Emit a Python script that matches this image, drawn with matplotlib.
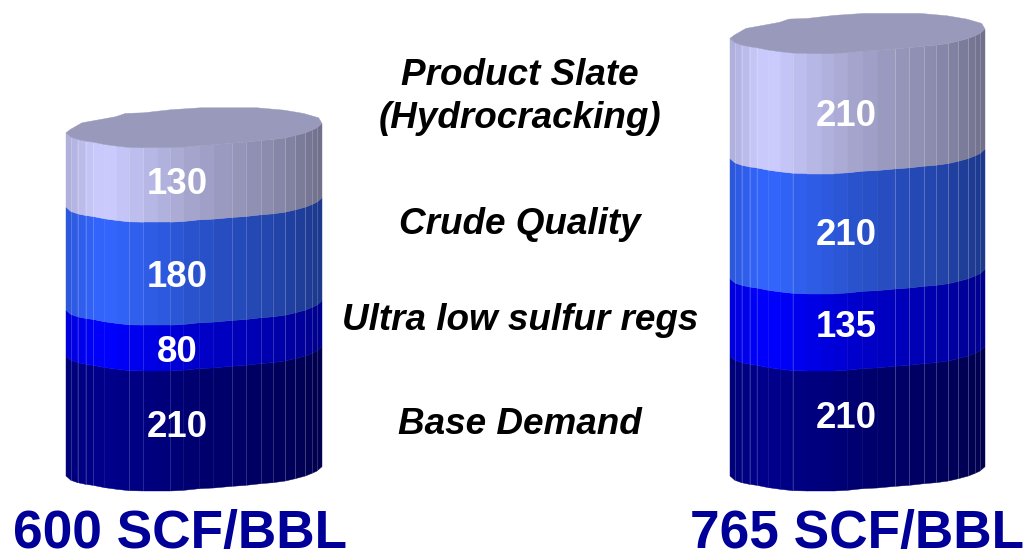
import numpy as np
import matplotlib
matplotlib.use('Agg')
import matplotlib.pyplot as plt

# hydrogen demand stacks, bottom to top
low_case = [210, 80, 180, 130]
high_case = [210, 135, 210, 210]
low_title = '600 SCF/BBL'
high_title = '765 SCF/BBL'
driver_names = ['Base Demand', 'Ultra low sulfur regs', 'Crude Quality', 'Product Slate\n(Hydrocracking)']

band_colors = [(0.0, 0.0, 0.55), (0.0, 0.0, 1.0), (0.2, 0.4, 1.0), (0.8, 0.8, 1.0)]
top_color = '#9999bb'
PX_PER_UNIT = 0.572
BASE_PX = 491

# facet edges of the drum, as a fraction of its width
edges = (np.array([47, 62, 82, 106, 128, 163, 200, 236, 280, 323, 360, 400, 447, 490, 545,
                   587, 632, 668, 705, 735, 765, 785, 800, 815]) - 47) / 768
# only these facet edges show a visible seam
seams = [1, 2, 3, 4, 7, 14, 15, 16, 17, 18, 19, 20, 21, 22]
# height of the front rim above its lowest point, in pixels
front_lift = (145 - np.array([100, 113, 120, 125, 128, 135, 140, 144, 145, 145, 145, 143, 138,
                              136, 131, 128, 123, 120, 115, 108, 100, 92, 85, 72])) / 3
# back rim of the lid, in pixels above the same point
back_x = (np.array([47, 60, 95, 140, 195, 225, 280, 360, 450, 530, 620, 700, 760, 805, 815]) - 47) / 768
back_lift = (145 - np.array([100, 90, 70, 62, 52, 42, 40, 31, 25, 25, 25, 32, 42, 55, 72])) / 3


def facet_shade(frac):
    return np.interp(frac, [0, 0.1, 0.16, 0.5, 0.8, 1], [0.85, 0.97, 1.0, 0.8, 0.68, 0.55])


def draw_drum(ax, left, width, values):
    xs = left + edges * width
    lift = front_lift / PX_PER_UNIT
    tops = np.cumsum(values)
    bottoms = tops - np.array(values)
    for bot, top, color in zip(bottoms, tops, band_colors):
        for i in range(len(xs) - 1):
            shade = facet_shade((edges[i] + edges[i + 1]) / 2)
            c = tuple(v * shade for v in color)
            ax.fill([xs[i], xs[i + 1], xs[i + 1], xs[i]],
                    [bot + lift[i], bot + lift[i + 1], top + lift[i + 1], top + lift[i]],
                    facecolor=c, edgecolor=c, linewidth=0.3, zorder=2)
    # thin seams between the facets
    for i in seams:
        ax.plot([xs[i], xs[i]], [lift[i], tops[-1] + lift[i]], color='white',
                alpha=0.22, linewidth=0.6, zorder=3)
    # lid
    lid_x = np.concatenate([xs, left + back_x[::-1] * width])
    lid_y = np.concatenate([tops[-1] + lift, tops[-1] + back_lift[::-1] / PX_PER_UNIT])
    ax.fill(lid_x, lid_y, facecolor=top_color, edgecolor=top_color, linewidth=0.3, zorder=4)


def value_labels(ax, center, values, nudges):
    tops = np.cumsum(values)
    mids = tops - np.array(values) / 2
    for mid, val, nudge in zip(mids, values, nudges):
        ax.text(center, mid + nudge / PX_PER_UNIT, str(val), color='white', fontsize=26.4,
                fontweight='bold', ha='center', va='center', zorder=5)


plt.rcParams['font.family'] = ['Liberation Sans', 'DejaVu Sans']
fig = plt.figure(figsize=(10.27, 5.5), dpi=100)
ax = fig.add_axes([0, 0, 1, 1])
ax.set_xlim(0, 1027)
ax.set_ylim(-(550 - BASE_PX) / PX_PER_UNIT, BASE_PX / PX_PER_UNIT)
ax.axis('off')

draw_drum(ax, 66, 256, low_case)
draw_drum(ax, 730, 255, high_case)
value_labels(ax, 177, low_case, [3, -5, -4, 0])
value_labels(ax, 846, high_case, [12, 5, -2, -3])

# driver names between the two drums, each level with its band
name_px = [424, 321, 225, 97]
for name, py in zip(driver_names, name_px):
    ax.text(520, (BASE_PX - py) / PX_PER_UNIT, name, fontsize=26.6, fontweight='bold',
            fontstyle='italic', ha='center', va='center', color='black',
            linespacing=1.3)

ax.text(180, (BASE_PX - 548) / PX_PER_UNIT, low_title, color='#000099', fontsize=38.3,
        fontweight='bold', ha='center', va='baseline')
ax.text(857, (BASE_PX - 548) / PX_PER_UNIT, high_title, color='#000099', fontsize=38.3,
        fontweight='bold', ha='center', va='baseline')

fig.savefig('out.png', dpi=100)
